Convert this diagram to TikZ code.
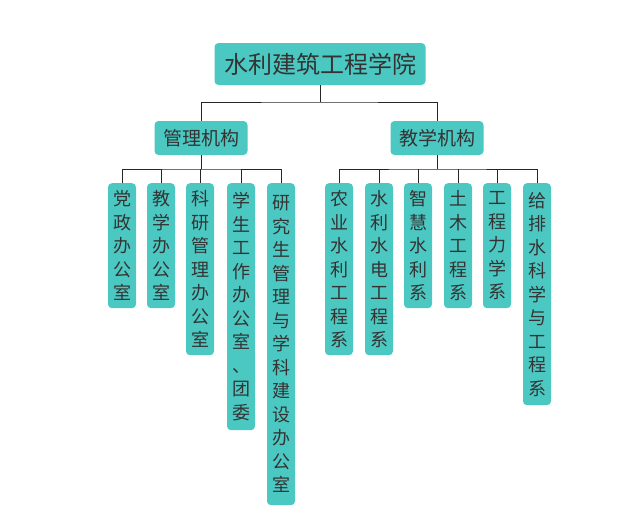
\documentclass[tikz,border=0pt]{standalone}
\usepackage{fontspec}
\newfontfamily\cjk{Noto Sans CJK SC}
\definecolor{teal1}{HTML}{4CC8C2}
\definecolor{txt}{HTML}{333333}
\begin{document}
\begin{tikzpicture}[x=1pt,y=-1pt,
 box/.style={fill=teal1,rounded corners=4pt,text=txt,font=\cjk,inner sep=0pt},
 top/.style={box,minimum width=211pt,minimum height=42pt,font=\cjk\fontsize{24}{24}\selectfont},
 mid/.style={box,minimum width=93pt,minimum height=34pt,font=\cjk\fontsize{19}{19}\selectfont},
 col/.style={box,minimum width=28pt,anchor=north,font=\cjk\fontsize{18}{23.5}\selectfont,align=center,text width=28pt,inner ysep=3pt},
 ln/.style={draw=black!85,line width=1pt}]
\useasboundingbox (0,0) rectangle (638,525);
\node[top] (T) at (320,64) {水利建筑工程学院};
\node[mid] (L) at (201,138) {管理机构};
\node[mid] (R) at (437,138) {教学机构};
\draw[ln] (T.south) -- (320,102) coordinate (h);
\draw[ln] (L.north) |- (h) -| (R.north);
\foreach \n/\x/\t/\h in {a/122/党\\政\\办\\公\\室/125, b/161/教\\学\\办\\公\\室/125, c/200/科\\研\\管\\理\\办\\公\\室/172, d/241/学\\生\\工\\作\\办\\公\\室\\、\\团\\委/247, e/281/研\\究\\生\\管\\理\\与\\学\\科\\建\\设\\办\\公\\室/322, f/339/农\\业\\水\\利\\工\\程\\系/172, g/379/水\\利\\水\\电\\工\\程\\系/172, i/418/智\\慧\\水\\利\\系/125, j/458/土\\木\\工\\程\\系/125, k/497/工\\程\\力\\学\\系/125, m/537/给\\排\\水\\科\\学\\与\\工\\程\\系/222}{
 \node[col,minimum height=\h pt] (\n) at (\x,183) {\t};
}
\draw[ln] (L.south) -- (201,169) coordinate (lh);
\draw[ln] (a.north) |- (lh) -| (e.north);
\foreach \n in {b,c,d} \draw[ln] (\n.north) -- (\n.north |- lh);
\draw[ln] (R.south) -- (437,169) coordinate (rh);
\draw[ln] (f.north) |- (rh) -| (m.north);
\foreach \n in {g,i,j,k} \draw[ln] (\n.north) -- (\n.north |- rh);
\end{tikzpicture}
\end{document}
